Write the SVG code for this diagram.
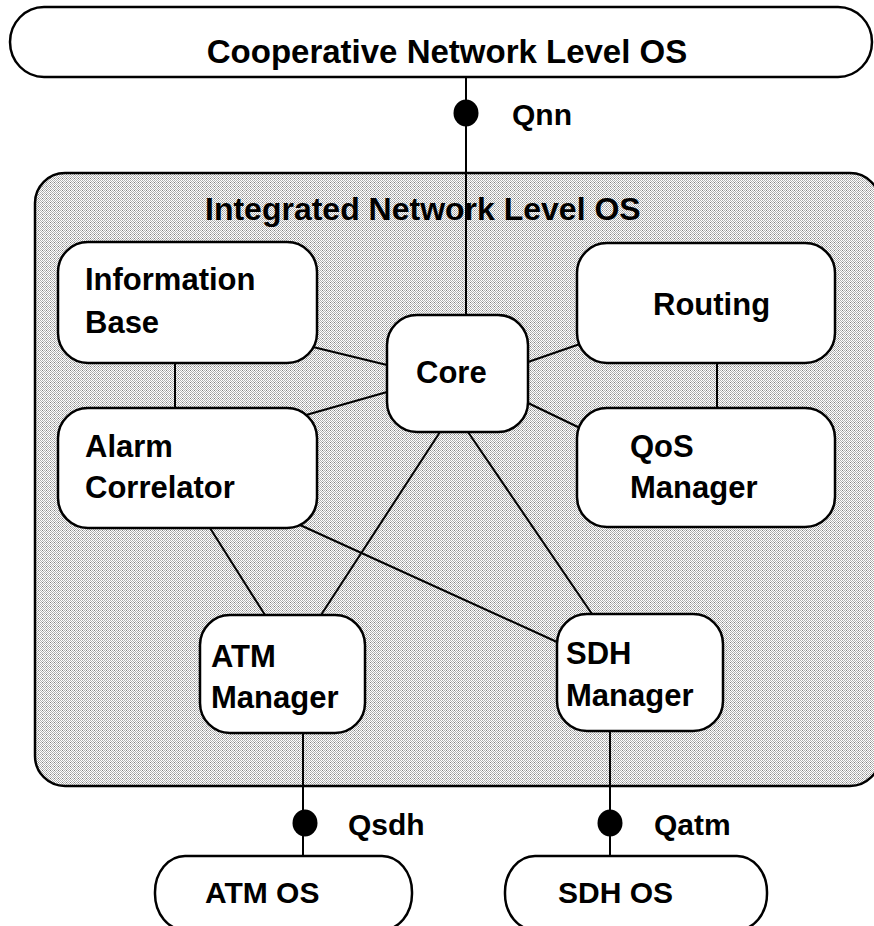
<svg xmlns="http://www.w3.org/2000/svg" width="874" height="926" viewBox="0 0 874 926">
<defs>
<pattern id="dots" x="0" y="0" width="4" height="4" patternUnits="userSpaceOnUse">
<rect width="4" height="4" fill="#ffffff"/>
<rect x="0" y="0" width="1" height="1" fill="#b0b0b0"/>
<rect x="2" y="0" width="1" height="1" fill="#b0b0b0"/>
<rect x="1" y="1" width="1" height="1" fill="#b0b0b0"/>
<rect x="3" y="1" width="1" height="1" fill="#b0b0b0"/>
<rect x="0" y="2" width="1" height="1" fill="#b0b0b0"/>
<rect x="2" y="2" width="1" height="1" fill="#808080"/>
<rect x="1" y="3" width="1" height="1" fill="#b0b0b0"/>
<rect x="3" y="3" width="1" height="1" fill="#b0b0b0"/>
</pattern>
</defs>
<style>
.box{fill:#fff;stroke:#000;stroke-width:2.5}
.os{fill:#fff;stroke:#000;stroke-width:2.5}
.lbl{font-family:"Liberation Sans",Arial,sans-serif;font-weight:bold;font-size:31px;fill:#000}
.q{font-family:"Liberation Sans",Arial,sans-serif;font-weight:bold;font-size:30px;fill:#000}
.ln{stroke:#000;stroke-width:2;fill:none}
.dot{fill:#000}
</style>

<g id="cooperative">
<rect class="os" x="10" y="7" width="862" height="70" rx="34" ry="35"/>
<text class="lbl" x="447" y="63" text-anchor="middle" style="font-size:33px">Cooperative Network Level OS</text>
</g>

<g id="integrated">
<rect x="35" y="173" width="845" height="613" rx="30" ry="30" fill="url(#dots)" stroke="#000" stroke-width="2.5"/>
<text class="lbl" x="205" y="220" style="font-size:32px">Integrated Network Level OS</text>
</g>

<g id="connectors">
<line class="ln" x1="466" y1="77" x2="466" y2="315"/>
<line class="ln" x1="313" y1="347" x2="387" y2="365"/>
<line class="ln" x1="306" y1="415" x2="387" y2="392"/>
<line class="ln" x1="528" y1="362" x2="580" y2="344"/>
<line class="ln" x1="528" y1="403" x2="580" y2="428"/>
<line class="ln" x1="175" y1="363" x2="175" y2="408"/>
<line class="ln" x1="717" y1="363" x2="717" y2="408"/>
<line class="ln" x1="440" y1="432" x2="321" y2="615"/>
<line class="ln" x1="468" y1="432" x2="592" y2="614"/>
<line class="ln" x1="210" y1="528" x2="265" y2="615"/>
<line class="ln" x1="300" y1="525" x2="557" y2="642"/>
<line class="ln" x1="303" y1="733" x2="303" y2="856"/>
<line class="ln" x1="610" y1="731" x2="610" y2="856"/>
<ellipse class="dot" cx="466" cy="113" rx="12.5" ry="13.5"/>
<ellipse class="dot" cx="305" cy="823" rx="12.5" ry="13.5"/>
<ellipse class="dot" cx="610" cy="823" rx="12.5" ry="13.5"/>
<text class="q" x="512" y="125">Qnn</text>
<text class="q" x="348" y="835">Qsdh</text>
<text class="q" x="654" y="835">Qatm</text>
</g>

<g id="infobase">
<rect class="box" x="58" y="242" width="259" height="121" rx="30" ry="30"/>
<text class="lbl" x="85" y="290">Information</text>
<text class="lbl" x="85" y="333">Base</text>
</g>

<g id="alarm">
<rect class="box" x="58" y="408" width="259" height="120" rx="30" ry="30"/>
<text class="lbl" x="85" y="457">Alarm</text>
<text class="lbl" x="85" y="498">Correlator</text>
</g>

<g id="core">
<rect class="box" x="387" y="315" width="141" height="117" rx="30" ry="30"/>
<text class="lbl" x="416" y="383">Core</text>
</g>

<g id="routing">
<rect class="box" x="577" y="243" width="258" height="120" rx="30" ry="30"/>
<text class="lbl" x="653" y="315">Routing</text>
</g>

<g id="qos">
<rect class="box" x="577" y="408" width="258" height="119" rx="30" ry="30"/>
<text class="lbl" x="630" y="457">QoS</text>
<text class="lbl" x="630" y="498">Manager</text>
</g>

<g id="atmmgr">
<rect class="box" x="200" y="615" width="165" height="118" rx="30" ry="30"/>
<text class="lbl" x="211" y="667">ATM</text>
<text class="lbl" x="211" y="708">Manager</text>
</g>

<g id="sdhmgr">
<rect class="box" x="557" y="614" width="166" height="117" rx="30" ry="30"/>
<text class="lbl" x="566" y="664">SDH</text>
<text class="lbl" x="566" y="706">Manager</text>
</g>

<g id="atmos">
<rect class="os" x="155" y="856" width="257" height="74" rx="30" ry="36"/>
<text class="q" x="205" y="903">ATM OS</text>
</g>

<g id="sdhos">
<rect class="os" x="505" y="856" width="262" height="74" rx="30" ry="36"/>
<text class="q" x="558" y="903">SDH OS</text>
</g>
</svg>
